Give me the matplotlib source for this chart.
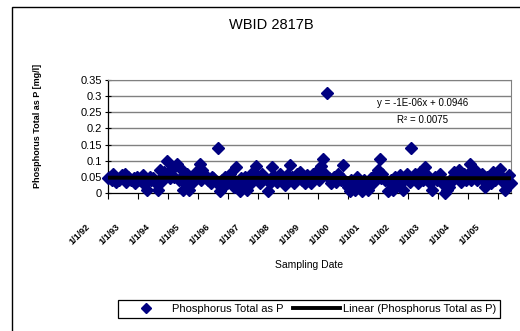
import numpy as np
import matplotlib
matplotlib.use("Agg")
import matplotlib.pyplot as plt
import matplotlib.dates as mdates
import matplotlib.transforms as mtransforms
from matplotlib.patches import Rectangle
from matplotlib.lines import Line2D

plt.rcParams['font.family'] = ['Liberation Sans', 'DejaVu Sans']

# sampling dates and total phosphorus (mg/l), one line per year
sample_dates = [
    "1992-01-02", "1992-01-25", "1992-02-14", "1992-03-03", "1992-04-08", "1992-05-15", "1992-06-20",
    "1992-07-27", "1992-08-10", "1992-09-01", "1992-10-08", "1992-11-13", "1992-11-28", "1992-12-20",
    "1993-01-25", "1993-02-14", "1993-03-03", "1993-04-08", "1993-04-21", "1993-05-27", "1993-06-12",
    "1993-07-03", "1993-08-08", "1993-09-01", "1993-09-26", "1993-10-05", "1993-10-20", "1993-11-13",
    "1993-12-20",
    "1994-01-13", "1994-01-30", "1994-02-19", "1994-03-15", "1994-04-21", "1994-05-15", "1994-06-08",
    "1994-06-25", "1994-07-03", "1994-07-27", "1994-08-20", "1994-09-14", "1994-10-08", "1994-10-25",
    "1994-11-13", "1994-12-08",
    "1995-01-02", "1995-01-25", "1995-02-05", "1995-02-19", "1995-03-27", "1995-05-03", "1995-06-08",
    "1995-06-20", "1995-07-03", "1995-08-08", "1995-09-01", "1995-09-26", "1995-10-15", "1995-11-01",
    "1995-11-26", "1995-12-20",
    "1996-01-25", "1996-02-05", "1996-02-19", "1996-03-15", "1996-04-08", "1996-05-03", "1996-05-27",
    "1996-06-05", "1996-06-20", "1996-07-27", "1996-08-20", "1996-09-14", "1996-10-08", "1996-10-25",
    "1996-11-13", "1996-12-08",
    "1997-01-02", "1997-01-25", "1997-02-05", "1997-02-19", "1997-03-27", "1997-05-03", "1997-05-27",
    "1997-06-05", "1997-06-20", "1997-07-27", "1997-08-20", "1997-09-26", "1997-10-15", "1997-11-01",
    "1997-11-26", "1997-12-20",
    "1998-01-25", "1998-02-05", "1998-02-19", "1998-03-15", "1998-04-21", "1998-05-27", "1998-06-20",
    "1998-07-05", "1998-07-27", "1998-08-20", "1998-09-14", "1998-10-08", "1998-10-20", "1998-11-01",
    "1998-12-08",
    "1999-01-02", "1999-01-20", "1999-02-07", "1999-03-03", "1999-03-27", "1999-04-21", "1999-05-15",
    "1999-06-08", "1999-06-25", "1999-07-15", "1999-08-08", "1999-09-01", "1999-10-08", "1999-10-20",
    "1999-11-01", "1999-12-08",
    "2000-01-02", "2000-01-25", "2000-02-05", "2000-02-19", "2000-03-27", "2000-04-21", "2000-05-15",
    "2000-06-05", "2000-06-20", "2000-07-15", "2000-08-08", "2000-09-01", "2000-10-08", "2000-10-20",
    "2000-11-01", "2000-12-08",
    "2001-01-02", "2001-01-25", "2001-02-05", "2001-02-19", "2001-03-27", "2001-05-03", "2001-05-27",
    "2001-06-15", "2001-07-03", "2001-07-27", "2001-09-01", "2001-09-26", "2001-10-10", "2001-11-01",
    "2001-11-26", "2001-12-20",
    "2002-01-13", "2002-01-25", "2002-02-07", "2002-03-03", "2002-03-27", "2002-05-03", "2002-05-27",
    "2002-06-20", "2002-07-05", "2002-07-27", "2002-08-20", "2002-09-26", "2002-10-05", "2002-10-20",
    "2002-11-26", "2002-12-20",
    "2003-01-25", "2003-02-05", "2003-02-19", "2003-03-27", "2003-04-21", "2003-05-15", "2003-06-05",
    "2003-06-20", "2003-07-15", "2003-08-20", "2003-09-14", "2003-10-08", "2003-10-25", "2003-11-13",
    "2003-12-08",
    "2004-01-02", "2004-01-25", "2004-02-05", "2004-02-19", "2004-03-27", "2004-04-21", "2004-05-27",
    "2004-06-20", "2004-07-05", "2004-07-27", "2004-08-20", "2004-09-26", "2004-10-10", "2004-11-01",
    "2004-11-26", "2004-12-20",
    "2005-01-25", "2005-02-19", "2005-03-10", "2005-03-27", "2005-04-21", "2005-05-15", "2005-06-08",
]
phosphorus = [
    0.045, 0.05, 0.04, 0.058, 0.035, 0.04, 0.055,
    0.06, 0.035, 0.05, 0.04, 0.045, 0.03, 0.05,
    0.04, 0.035, 0.055, 0.03, 0.01, 0.05, 0.04,
    0.045, 0.03, 0.01, 0.07, 0.035, 0.05, 0.065,
    0.10,
    0.06, 0.045, 0.075, 0.05, 0.09, 0.04, 0.075,
    0.05, 0.01, 0.03, 0.06, 0.01, 0.045, 0.03,
    0.04, 0.065,
    0.06, 0.09, 0.04, 0.07, 0.055, 0.04, 0.03,
    0.05, 0.045, 0.035, 0.14, 0.005, 0.04, 0.02,
    0.05, 0.03,
    0.06, 0.045, 0.04, 0.02, 0.08, 0.035, 0.005,
    0.045, 0.03, 0.05, 0.01, 0.04, 0.06, 0.035,
    0.045, 0.085,
    0.05, 0.03, 0.04, 0.06, 0.045, 0.005, 0.03,
    0.045, 0.08, 0.05, 0.035, 0.06, 0.045, 0.04,
    0.025, 0.055,
    0.087, 0.04, 0.05, 0.03, 0.06, 0.065, 0.04,
    0.045, 0.03, 0.055, 0.045, 0.03, 0.04, 0.06,
    0.05,
    0.07, 0.04, 0.085, 0.105, 0.06, 0.31, 0.045,
    0.03, 0.04, 0.05, 0.035, 0.06, 0.04, 0.045,
    0.087, 0.03,
    0.02, 0.005, 0.04, 0.03, 0.01, 0.05, 0.035,
    0.03, 0.005, 0.04, 0.02, 0.01, 0.045, 0.035,
    0.03, 0.06,
    0.07, 0.105, 0.045, 0.06, 0.04, 0.005, 0.03,
    0.04, 0.01, 0.05, 0.035, 0.055, 0.03, 0.01,
    0.045, 0.06,
    0.04, 0.035, 0.14, 0.05, 0.06, 0.03, 0.065,
    0.045, 0.04, 0.08, 0.055, 0.03, 0.04, 0.01,
    0.05, 0.04,
    0.06, 0.04, 0.03, 0.0, 0.01, 0.02, 0.035,
    0.045, 0.065, 0.05, 0.07, 0.035, 0.045, 0.06,
    0.04,
    0.06, 0.09, 0.04, 0.055, 0.07, 0.04, 0.05,
    0.06, 0.04, 0.02, 0.05, 0.045, 0.03, 0.065,
    0.04, 0.055,
    0.075, 0.05, 0.035, 0.01, 0.04, 0.055, 0.03,
]
tick_dates = ["1992-01-01", "1993-01-01", "1994-01-01", "1995-01-01", "1996-01-01",
              "1997-01-01", "1998-01-01", "1999-01-01", "2000-01-01", "2001-01-01",
              "2002-01-01", "2003-01-01", "2004-01-01", "2005-01-01"]
tick_labels = ["1/1/92", "1/1/93", "1/1/94", "1/1/95", "1/1/96", "1/1/97", "1/1/98",
               "1/1/99", "1/1/00", "1/1/01", "1/1/02", "1/1/03", "1/1/04", "1/1/05"]
y_ticks = [0, 0.05, 0.1, 0.15, 0.2, 0.25, 0.3, 0.35]
y_tick_labels = ["0", "0.05", "0.1", "0.15", "0.2", "0.25", "0.3", "0.35"]

navy = "#000080"

x = mdates.datestr2num(sample_dates)
y = np.array(phosphorus)
x_lo = mdates.datestr2num("1992-01-01")
x_hi = mdates.datestr2num("2005-06-10")

fig = plt.figure(figsize=(5.2, 3.31), dpi=100)

# outer chart border
fig.patches.append(Rectangle((12 / 520, -0.1), 1.0, 1 - 7 / 331 + 0.1,
                             transform=fig.transFigure, fill=False,
                             edgecolor="black", linewidth=1.0))

ax = fig.add_axes([108 / 520, 1 - 193 / 331, 403 / 520, 113 / 331])
ax.set_xlim(x_lo, x_hi)
ax.set_ylim(0, 0.35)

for v in y_ticks[1:]:
    ax.axhline(v, color="#808080", linewidth=1.0, zorder=1)

ax.plot(x, y, linestyle="none", marker="D", markersize=6.2,
        color=navy, markeredgecolor=navy, zorder=3, clip_on=False)

# linear trend
slope, intercept = np.polyfit(x, y, 1)
tx = np.array([x_lo, x_hi])
ax.plot(tx, slope * tx + intercept, color="black", linewidth=2.8, zorder=4,
        solid_capstyle="butt")

ax.text(0.78, 0.80, "y = -1E-06x + 0.0946", transform=ax.transAxes,
        ha="center", va="center", fontsize=7)
ax.text(0.78, 0.65, "R² = 0.0075", transform=ax.transAxes,
        ha="center", va="center", fontsize=7)

ax.set_yticks(y_ticks)
ax.set_yticklabels(y_tick_labels, fontsize=8)

# date labels sit below and to the left of their ticks
tick_pos = mdates.datestr2num(tick_dates)
ax.set_xticks(tick_pos)
ax.set_xticklabels([])
label_tf = ax.get_xaxis_transform() + mtransforms.ScaledTranslation(
    -16 / 100, -29 / 100, fig.dpi_scale_trans)
for pos, lab in zip(tick_pos, tick_labels):
    ax.text(pos, 0, lab, transform=label_tf, rotation=45, ha="right", va="top",
            fontsize=6.5, fontweight="bold")

ax.tick_params(axis="y", direction="inout", length=5, width=0.8, pad=2)
ax.tick_params(axis="x", direction="out", length=4, width=0.8)
for side in ["top", "right"]:
    ax.spines[side].set_color("#808080")
for side in ["left", "bottom"]:
    ax.spines[side].set_color("black")
    ax.spines[side].set_linewidth(0.9)

fig.text(271 / 520, 1 - 25 / 331, "WBID 2817B", ha="center", va="center", fontsize=10.5)
fig.text(309 / 520, 1 - 265 / 331, "Sampling Date", ha="center", va="center", fontsize=7.5)
fig.text(38 / 520, 1 - 126 / 331, "Phosphorus Total as P [mg/l]", rotation=90,
         ha="center", va="center", fontsize=6.5, fontweight="bold")

handles = [
    Line2D([], [], linestyle="none", marker="D", markersize=5, color=navy),
    Line2D([], [], color="black", linewidth=2.8),
]
fig.legend(handles, ["Phosphorus Total as P", "Linear (Phosphorus Total as P)"],
           loc="center", bbox_to_anchor=(309 / 520, 1 - 309 / 331), ncol=2,
           fontsize=8, frameon=True, fancybox=False, edgecolor="black",
           framealpha=1, handlelength=4.3, handletextpad=0.25, columnspacing=0.8,
           borderpad=0.35)
fig.legends[0].get_frame().set_linewidth(0.9)

fig.savefig("out.png", dpi=100)
